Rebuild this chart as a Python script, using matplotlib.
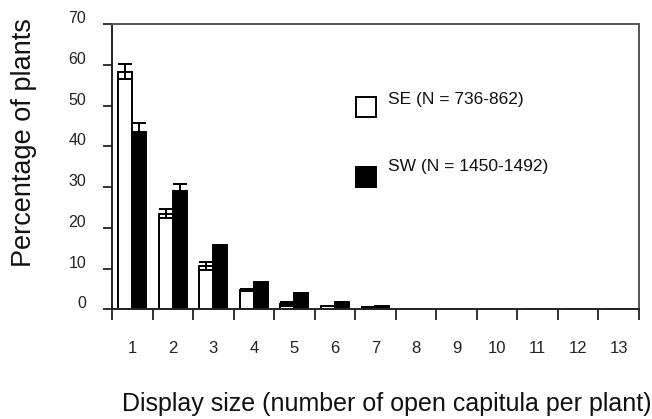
import numpy as np
import matplotlib.pyplot as plt
from matplotlib.patches import Rectangle
from matplotlib.transforms import ScaledTranslation

plt.rcParams['font.family'] = ['Liberation Sans', 'DejaVu Sans']

# --- data ---
display_size = np.arange(1, 14)
se_pct = [58.3, 23.5, 10.6, 4.7, 1.4, 0.9, 0.5, 0, 0, 0, 0, 0, 0]
se_err = [1.8, 1.0, 1.0, 0.3, 0.5, 0, 0, 0, 0, 0, 0, 0, 0]
sw_pct = [43.4, 29.1, 15.7, 6.6, 4.0, 1.7, 0.9, 0, 0, 0, 0, 0, 0]
sw_err = [2.2, 1.6, 0, 0, 0, 0, 0, 0, 0, 0, 0, 0, 0]
y_ticks = [0, 10, 20, 30, 40, 50, 60, 70]
se_label = 'SE (N = 736-862)'
sw_label = 'SW (N = 1450-1492)'

bar_w = 0.345

fig = plt.figure(figsize=(6.52, 4.19), dpi=100)
ax = fig.add_axes([0.1718, 0.2618, 0.8082, 0.6809])

x_se = display_size - bar_w / 2
x_sw = display_size + bar_w / 2
ax.bar(x_se, se_pct, width=bar_w, color='white', edgecolor='black', linewidth=1.4, zorder=2)
ax.bar(x_sw, sw_pct, width=bar_w, color='black', edgecolor='black', linewidth=1.4, zorder=2)

# error bars only where there is one
se_mask = np.array(se_err) > 0
sw_mask = np.array(sw_err) > 0
ax.errorbar(x_se[se_mask], np.array(se_pct)[se_mask], yerr=np.array(se_err)[se_mask],
            fmt='none', ecolor='black', elinewidth=1.4, capsize=5, capthick=1.4, zorder=3)
ax.errorbar(x_sw[sw_mask], np.array(sw_pct)[sw_mask], yerr=np.array(sw_err)[sw_mask],
            fmt='none', ecolor='black', elinewidth=1.4, capsize=5, capthick=1.4, zorder=3)

ax.set_xlim(0.5, 13.5)
ax.set_ylim(0, 70)

ax.set_xticks(display_size)
ax.set_xticklabels([str(v) for v in display_size])
ax.set_xticks(np.arange(0.5, 14, 1), minor=True)
ax.tick_params(axis='x', which='major', length=0, pad=23, labelsize=12, colors='#222222')
ax.tick_params(axis='x', which='minor', length=8, width=1.3, color='#222222', direction='out')

ax.set_yticks(y_ticks)
ax.tick_params(axis='y', length=6.5, width=1.3, pad=12, labelsize=11.5, colors='#222222',
               direction='out')
for lab in ax.get_yticklabels():
    lab.set_transform(lab.get_transform() + ScaledTranslation(0, 7 / 100, fig.dpi_scale_trans))

for side in ['left', 'bottom']:
    ax.spines[side].set_linewidth(1.4)
    ax.spines[side].set_color('#222222')
for side in ['top', 'right']:
    ax.spines[side].set_linewidth(1.4)
    ax.spines[side].set_color('#555555')

# legend drawn by hand
ax.add_patch(Rectangle((0.463, 0.674), 0.038, 0.070, transform=ax.transAxes,
                       facecolor='white', edgecolor='black', linewidth=1.4, clip_on=False))
ax.add_patch(Rectangle((0.463, 0.430), 0.038, 0.070, transform=ax.transAxes,
                       facecolor='black', edgecolor='black', linewidth=1.4, clip_on=False))
ax.text(0.523, 0.734, se_label, transform=ax.transAxes, fontsize=12.5, va='center',
        ha='left', color='#111111')
ax.text(0.523, 0.502, sw_label, transform=ax.transAxes, fontsize=12.5, va='center',
        ha='left', color='#111111')

fig.text(24 / 652, 1 - 142.5 / 419, 'Percentage of plants', rotation=90,
         ha='center', va='center', fontsize=19.5, color='#111111')
fig.text(122 / 652, 1 - 410.7 / 419, 'Display size (number of open capitula per plant)',
         ha='left', va='baseline', fontsize=18, color='#111111')

fig.savefig('out.png', dpi=100)
